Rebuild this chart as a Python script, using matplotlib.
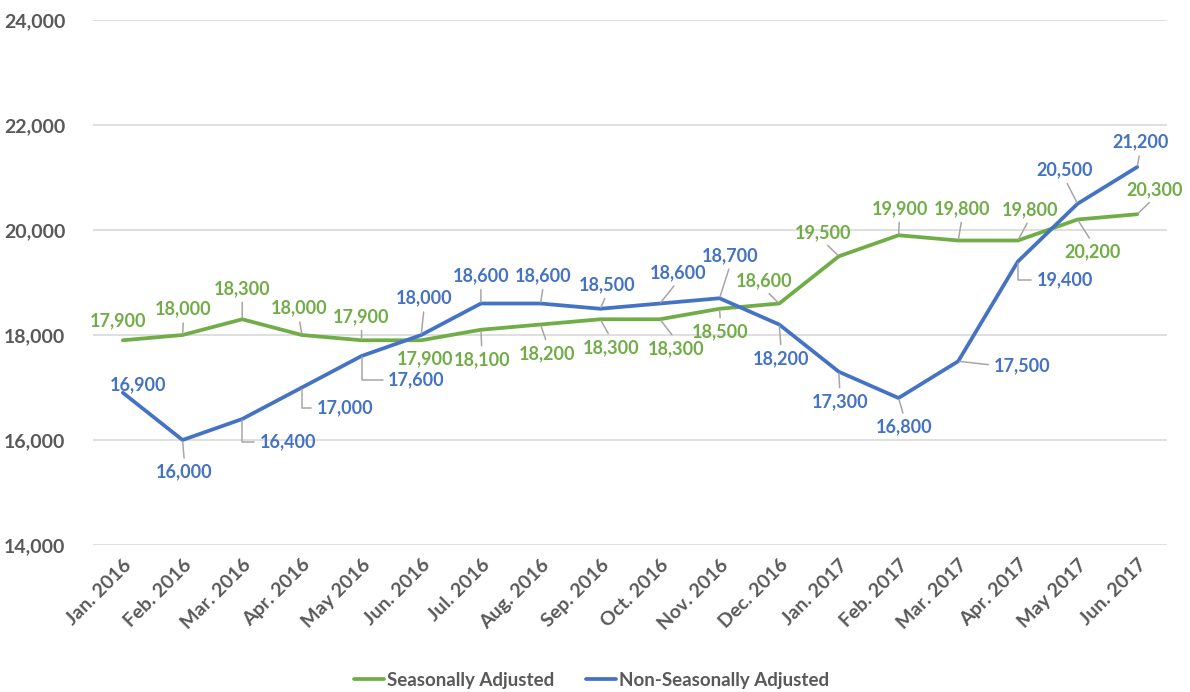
import matplotlib
matplotlib.use('Agg')
import matplotlib.pyplot as plt
import numpy as np

plt.rcParams['font.family'] = ['Lato', 'DejaVu Sans']

# Data
months = ['Jan. 2016', 'Feb. 2016', 'Mar. 2016', 'Apr. 2016', 'May 2016', 'Jun. 2016',
          'Jul. 2016', 'Aug. 2016', 'Sep. 2016', 'Oct. 2016', 'Nov. 2016', 'Dec. 2016',
          'Jan. 2017', 'Feb. 2017', 'Mar. 2017', 'Apr. 2017', 'May 2017', 'Jun. 2017']
seasonal = [17900, 18000, 18300, 18000, 17900, 17900, 18100, 18200, 18300, 18300,
            18500, 18600, 19500, 19900, 19800, 19800, 20200, 20300]
non_seasonal = [16900, 16000, 16400, 17000, 17600, 18000, 18600, 18600, 18500, 18600,
                18700, 18200, 17300, 16800, 17500, 19400, 20500, 21200]

# Label placement (pixel offsets from point), leader flag, elbow flag
sa_off = [(-5, 20), (1, 26), (0, 31), (-3, 27), (0, 24), (4, -18), (1, -30), (7, -29),
          (11, -28), (16, -29), (1, -23), (-15, 23), (-16, 24), (1, 27), (4, 32),
          (12, 31), (15, -32), (17, 25)]
sa_lead = [False, True, True, True, True, False] + [True] * 12
nsa_off = [(15, 8), (2, -32), (46, -23), (43, -20), (55, -24), (3, 37), (0, 28), (3, 28),
           (7, 24), (18, 31), (11, 43), (2, -34), (1, -30), (6, -29), (64, -4),
           (47, -18), (-13, 34), (3, 25)]
nsa_lead = [False] + [True] * 17
nsa_elbow = [False, False, True, True, True] + [False] * 10 + [True, False, False]

green = '#70AD47'
blue = '#4472C4'
grey = '#595959'
lead_col = '#A6A6A6'

fig = plt.figure(figsize=(11.9, 6.92), dpi=100)
ax = fig.add_axes([0.0782, 0.2124, 0.9025, 0.7587])

x = np.arange(len(months))
ax.plot(x, seasonal, color=green, lw=2.7, label='Seasonally Adjusted', zorder=3,
        solid_capstyle='round')
ax.plot(x, non_seasonal, color=blue, lw=2.7, label='Non-Seasonally Adjusted', zorder=3,
        solid_capstyle='round')


def add_labels(vals, offs, leads, color, elbows=None):
    for i, v in enumerate(vals):
        dx, dy = offs[i]
        props = None
        if leads[i]:
            if elbows is not None and elbows[i]:
                rel = (0, 0.5) if dx > 0 else (1, 0.5)
                conn = 'angle,angleA=0,angleB=90,rad=0'
            elif abs(dx) > 35:
                rel = (0, 0.5) if dx > 0 else (1, 0.5)
                conn = 'arc3'
            else:
                rel = (0.5, 0) if dy > 0 else (0.5, 1)
                conn = 'arc3'
            props = dict(arrowstyle='-', color=lead_col, lw=1.1, relpos=rel,
                         shrinkA=2, shrinkB=1, connectionstyle=conn)
        ax.annotate(f'{v:,}', xy=(i, v), xytext=(dx, dy), textcoords='offset pixels',
                    ha='center', va='center', color=color, fontsize=13,
                    fontweight='bold', arrowprops=props, zorder=4)


add_labels(seasonal, sa_off, sa_lead, green)
add_labels(non_seasonal, nsa_off, nsa_lead, blue, nsa_elbow)

ax.set_xlim(-0.5, len(months) - 0.5)
ax.set_ylim(14000, 24000)
ax.set_yticks(np.arange(14000, 24001, 2000))
ax.yaxis.set_major_formatter(matplotlib.ticker.FuncFormatter(lambda v, p: f'{int(v):,}'))
ax.set_xticks(x)
ax.set_xticklabels(months, rotation=45, ha='right', rotation_mode='anchor')
ax.tick_params(axis='both', length=0, labelsize=14, labelcolor=grey)
ax.tick_params(axis='y', pad=20)
ax.tick_params(axis='x', pad=8)
for lbl in ax.get_xticklabels() + ax.get_yticklabels():
    lbl.set_fontweight('bold')
for s in ax.spines.values():
    s.set_visible(False)
ax.grid(axis='y', color='#D9D9D9', lw=1.2)
ax.set_axisbelow(True)

leg = fig.legend(loc='center', bbox_to_anchor=(0.497, 0.017), ncol=2, frameon=False,
                 handlelength=1.6, handletextpad=0.15, columnspacing=1.7,
                 prop={'size': 13.5, 'weight': 'bold'})
for t in leg.get_texts():
    t.set_color(grey)

fig.savefig('out.png', dpi=100)
